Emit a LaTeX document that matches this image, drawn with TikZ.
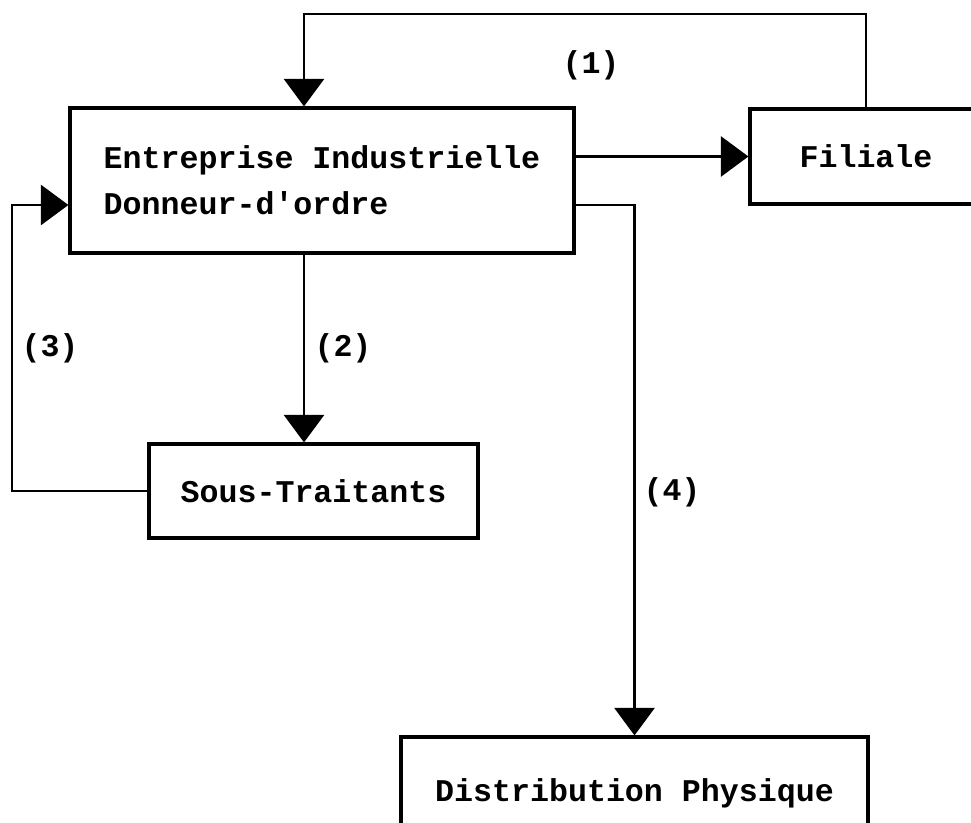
\documentclass[tikz,border=0pt]{standalone}
\usepackage{fontspec}
\setmonofont{Liberation Mono}
\usepackage{tikz}
\usetikzlibrary{arrows.meta,positioning,calc}

\begin{document}
\begin{tikzpicture}[
      every node/.style={font=\ttfamily\bfseries\fontsize{18}{26}\selectfont},
      block/.style={draw,line width=1.8pt,inner sep=0pt},
      link/.style={line width=1.5pt,-{Triangle[width=0.8cm,length=0.55cm]}},
      tag/.style={inner sep=1pt}]
      \clip (0,0) rectangle (19.42,16.44);
      \node[block,minimum width=10.08cm,minimum height=2.9cm,align=left] (E) at (6.44,12.83)
        {Entreprise Industrielle\\Donneur-d'ordre};
      \node[block,minimum width=4.64cm,minimum height=1.9cm] (F) at (17.32,13.31) {Filiale};
      \node[block,minimum width=6.58cm,minimum height=1.88cm] (S) at (6.27,6.62) {Sous-Traitants};
      \node[block,minimum width=9.34cm,minimum height=2.24cm] (D) at (12.69,0.58) {Distribution Physique};
      \coordinate (top) at (6.08,16.16);
      \coordinate (back) at (0.24,12.34);
      \node[tag] (l1) at (11.82,15.14) {(1)};
      \node[tag] (l2) at (6.86,9.48) {(2)};
      \node[tag] (l3) at (1.0,9.48) {(3)};
      \node[tag] (l4) at (13.44,6.6) {(4)};
      \draw[link] (F.north) |- (top) -- (top |- E.north);
      \draw[link] (E.east |- F.west) -- (F.west);
      \draw[link] (top |- E.south) -- (top |- S.north);
      \draw[link] (S.west) -| (back) -- (back -| E.west);
      \draw[link] (back -| E.east) -| (D.north);
    \end{tikzpicture}
\end{document}
